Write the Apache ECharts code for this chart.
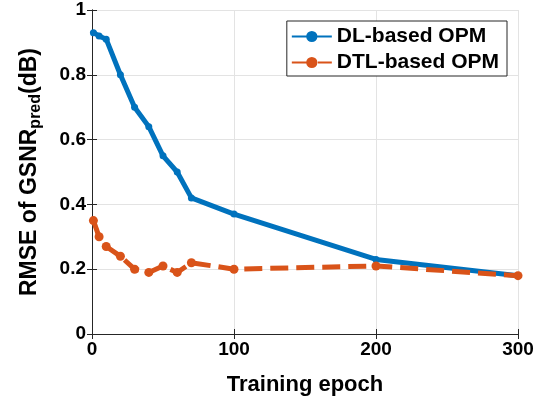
<!DOCTYPE html>
<html>
<head>
<meta charset="utf-8">
<script src="https://cdn.jsdelivr.net/npm/echarts@6/dist/echarts.min.js"></script>
<style>
  html, body { margin: 0; padding: 0; background: #fff; }
  #chart { width: 546px; height: 401px; }
</style>
</head>
<body>
<div id="chart"></div>
<script>
// Training epochs and RMSE values
const epochs = [1, 5, 10, 20, 30, 40, 50, 60, 70, 100, 200, 300]
const dlRmse = [0.93, 0.92, 0.91, 0.80, 0.70, 0.64, 0.55, 0.50, 0.42, 0.37, 0.23, 0.18]
const dtlRmse = [0.35, 0.30, 0.27, 0.24, 0.20, 0.19, 0.21, 0.19, 0.22, 0.20, 0.21, 0.18]
const xTicks = [0, 100, 200, 300]
const yTicks = [0, 0.2, 0.4, 0.6, 0.8, 1]

const chart = echarts.init(document.getElementById('chart'), null, { renderer: 'canvas' })

const font = 'Liberation Sans, Arial, Helvetica, sans-serif'
const pairs = ys => epochs.map((x, i) => [x, ys[i]])
const tickText = { fontFamily: font, fontWeight: 'bold', fontSize: 19, color: '#000' }

const option = {
  animation: false,
  grid: { left: 92, right: 28, top: 10, bottom: 67, show: false },
  legend: {
    right: 39,
    top: 21,
    orient: 'vertical',
    backgroundColor: '#fff',
    borderColor: '#262626',
    borderWidth: 1,
    padding: [5, 8, 3, 4],
    itemGap: 5,
    itemWidth: 40,
    itemHeight: 14,
    textStyle: { fontFamily: font, fontWeight: 'bold', fontSize: 21, color: '#000' },
    data: ['DL-based OPM', 'DTL-based OPM']
  },
  xAxis: [{
    type: 'value',
    min: 0, max: 300, interval: 100,
    name: 'Training epoch',
    nameLocation: 'middle',
    nameGap: 40,
    nameTextStyle: { fontFamily: font, fontWeight: 'bold', fontSize: 22, color: '#000' },
    axisLine: { show: true, lineStyle: { color: '#262626', width: 1 } },
    axisTick: { show: true, inside: true, length: 5, lineStyle: { color: '#262626' } },
    axisLabel: { ...tickText, margin: 6, formatter: v => xTicks.includes(v) ? String(v) : '' },
    splitLine: { show: true, lineStyle: { color: '#e3e3e3', width: 1 } }
  }, {
    type: 'value', position: 'top',
    min: 0, max: 300, interval: 100,
    axisLine: { show: true, lineStyle: { color: '#262626', width: 1 } },
    axisTick: { show: true, inside: true, length: 5, lineStyle: { color: '#262626' } },
    axisLabel: { show: false },
    splitLine: { show: false }
  }],
  yAxis: [{
    type: 'value',
    min: 0, max: 1, interval: 0.2,
    name: '{a|RMSE of GSNR}{b|pred}{a|(dB)}',
    nameLocation: 'middle',
    nameGap: 48,
    nameTextStyle: {
      rich: {
        a: { fontFamily: font, fontWeight: 'bold', fontSize: 23, color: '#000' },
        b: { fontFamily: font, fontWeight: 'bold', fontSize: 16, color: '#000', padding: [13, 0, 0, 0] }
      }
    },
    axisLine: { show: true, lineStyle: { color: '#262626', width: 1 } },
    axisTick: { show: true, inside: true, length: 5, lineStyle: { color: '#262626' } },
    axisLabel: { ...tickText, margin: 6, formatter: v => yTicks.some(t => Math.abs(t - v) < 1e-9) ? String(+v.toFixed(1)) : '' },
    splitLine: { show: true, lineStyle: { color: '#e3e3e3', width: 1 } }
  }, {
    type: 'value', position: 'right',
    min: 0, max: 1, interval: 0.2,
    axisLine: { show: true, lineStyle: { color: '#262626', width: 1 } },
    axisTick: { show: true, inside: true, length: 5, lineStyle: { color: '#262626' } },
    axisLabel: { show: false },
    splitLine: { show: false }
  }],
  series: [{
    name: 'DL-based OPM',
    type: 'line',
    data: pairs(dlRmse),
    color: '#0072BD',
    symbol: 'circle',
    symbolSize: 7,
    lineStyle: { width: 5, color: '#0072BD' },
    itemStyle: { color: '#0072BD' },
    z: 3
  }, {
    name: 'DTL-based OPM',
    type: 'line',
    data: pairs(dtlRmse),
    color: '#D95319',
    symbol: 'circle',
    symbolSize: 9,
    lineStyle: { width: 5, color: '#D95319', type: [18, 8] },
    itemStyle: { color: '#D95319' },
    z: 4
  }]
}

chart.setOption(option)
</script>
</body>
</html>
